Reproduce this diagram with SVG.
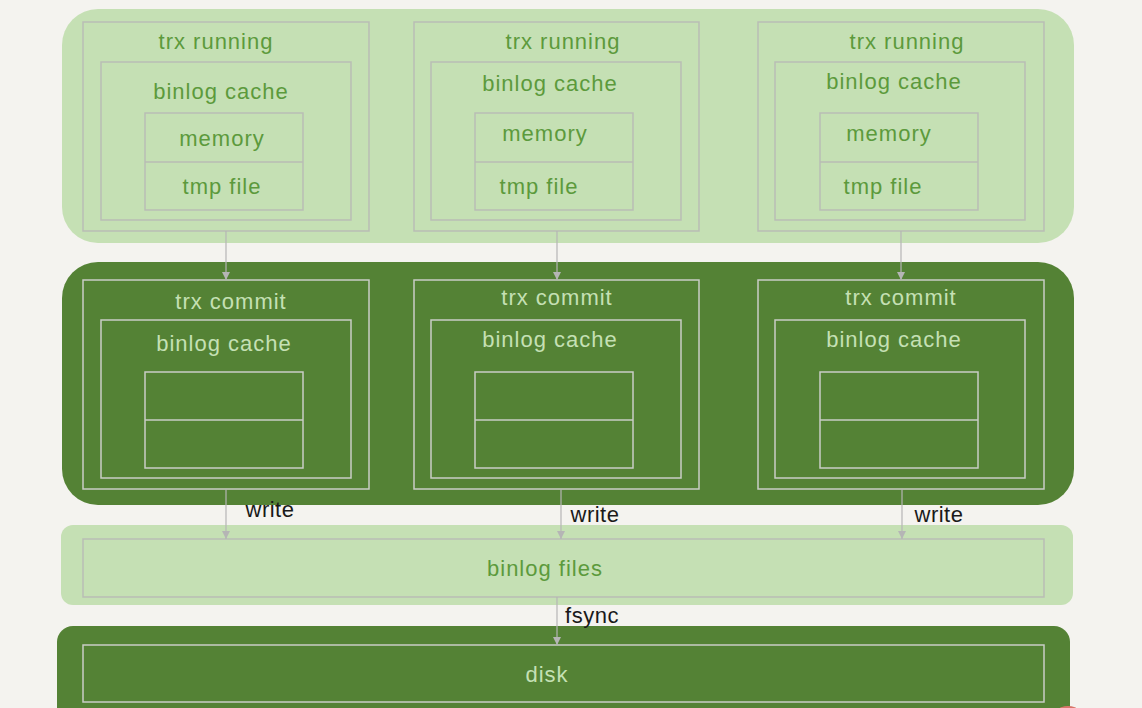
<svg xmlns="http://www.w3.org/2000/svg" width="1142" height="708" viewBox="0 0 1142 708">
<defs>
<style>
.bg{fill:#f4f3ef}
.lband{fill:#c5e0b4}
.dband{fill:#548235}
.lbox{fill:none;stroke:#b9bdb5;stroke-width:1.5}
.dbox{fill:none;stroke:#c9cdc6;stroke-width:1.5}
.lt{font-family:"Liberation Sans",Arial,sans-serif;font-size:22px;letter-spacing:1px;fill:#5c9a3c;text-anchor:middle}
.dt{font-family:"Liberation Sans",Arial,sans-serif;font-size:22px;letter-spacing:1px;fill:#c5e0b4;text-anchor:middle}
.kt{font-family:"Liberation Sans",Arial,sans-serif;font-size:22px;letter-spacing:0.5px;fill:#1a1a1a;text-anchor:middle}
.conn{stroke:#b5b5b5;stroke-width:1.2;fill:none;marker-end:url(#ah)}
</style>
<marker id="ah" viewBox="0 0 10 10" refX="10" refY="5" markerWidth="8" markerHeight="8" markerUnits="userSpaceOnUse" orient="auto">
<path d="M0,0 L10,5 L0,10 z" fill="#b5b5b5"/>
</marker>
</defs>
<rect class="bg" x="0" y="0" width="1142" height="708"/>
<g id="band-running"><rect class="lband" x="62" y="9" width="1012" height="234" rx="36"/></g>
<g id="band-commit"><rect class="dband" x="62" y="262" width="1012" height="243" rx="36"/></g>
<g id="band-files"><rect class="lband" x="61" y="525" width="1012" height="80" rx="12"/></g>
<g id="band-disk"><rect class="dband" x="57" y="626" width="1013" height="100" rx="16"/></g>
<circle cx="1068" cy="724" r="18" fill="#d9756a"/>

<g id="running-1">
<rect class="lbox" x="83" y="22" width="286" height="209"/>
<text class="lt" x="216" y="49">trx running</text>
<rect class="lbox" x="101" y="62" width="250" height="158"/>
<text class="lt" x="221" y="99">binlog cache</text>
<rect class="lbox" x="145" y="113" width="158" height="97"/>
<line class="lbox" x1="145" y1="162" x2="303" y2="162"/>
<text class="lt" x="222" y="146">memory</text>
<text class="lt" x="222" y="194">tmp file</text>
</g>
<g id="running-2">
<rect class="lbox" x="414" y="22" width="285" height="209"/>
<text class="lt" x="563" y="49">trx running</text>
<rect class="lbox" x="431" y="62" width="250" height="158"/>
<text class="lt" x="550" y="91">binlog cache</text>
<rect class="lbox" x="475" y="113" width="158" height="97"/>
<line class="lbox" x1="475" y1="162" x2="633" y2="162"/>
<text class="lt" x="545" y="141">memory</text>
<text class="lt" x="539" y="194">tmp file</text>
</g>
<g id="running-3">
<rect class="lbox" x="758" y="22" width="286" height="209"/>
<text class="lt" x="907" y="49">trx running</text>
<rect class="lbox" x="775" y="62" width="250" height="158"/>
<text class="lt" x="894" y="89">binlog cache</text>
<rect class="lbox" x="820" y="113" width="158" height="97"/>
<line class="lbox" x1="820" y1="162" x2="978" y2="162"/>
<text class="lt" x="889" y="141">memory</text>
<text class="lt" x="883" y="194">tmp file</text>
</g>

<g id="commit-1">
<rect class="dbox" x="83" y="280" width="286" height="209"/>
<text class="dt" x="231" y="309">trx commit</text>
<rect class="dbox" x="101" y="320" width="250" height="158"/>
<text class="dt" x="224" y="351">binlog cache</text>
<rect class="dbox" x="145" y="372" width="158" height="96"/>
<line class="dbox" x1="145" y1="420" x2="303" y2="420"/>
</g>
<g id="commit-2">
<rect class="dbox" x="414" y="280" width="285" height="209"/>
<text class="dt" x="557" y="305">trx commit</text>
<rect class="dbox" x="431" y="320" width="250" height="158"/>
<text class="dt" x="550" y="347">binlog cache</text>
<rect class="dbox" x="475" y="372" width="158" height="96"/>
<line class="dbox" x1="475" y1="420" x2="633" y2="420"/>
</g>
<g id="commit-3">
<rect class="dbox" x="758" y="280" width="286" height="209"/>
<text class="dt" x="901" y="305">trx commit</text>
<rect class="dbox" x="775" y="320" width="250" height="158"/>
<text class="dt" x="894" y="347">binlog cache</text>
<rect class="dbox" x="820" y="372" width="158" height="96"/>
<line class="dbox" x1="820" y1="420" x2="978" y2="420"/>
</g>

<g id="binlog-files">
<rect class="lbox" x="83" y="539" width="961" height="58"/>
<text class="lt" x="545" y="576">binlog files</text>
</g>
<g id="disk">
<rect class="dbox" x="83" y="645" width="961" height="57"/>
<text class="dt" x="547" y="682">disk</text>
</g>

<g id="connectors">
<line class="conn" x1="226" y1="231" x2="226" y2="280"/>
<line class="conn" x1="557" y1="231" x2="557" y2="280"/>
<line class="conn" x1="901" y1="231" x2="901" y2="280"/>
<line class="conn" x1="226" y1="489" x2="226" y2="539"/>
<line class="conn" x1="561" y1="489" x2="561" y2="539"/>
<line class="conn" x1="902" y1="489" x2="902" y2="539"/>
<line class="conn" x1="557" y1="597" x2="557" y2="645"/>
<text class="kt" x="270" y="517">write</text>
<text class="kt" x="595" y="522">write</text>
<text class="kt" x="939" y="522">write</text>
<text class="kt" x="592" y="623">fsync</text>
</g>
</svg>
